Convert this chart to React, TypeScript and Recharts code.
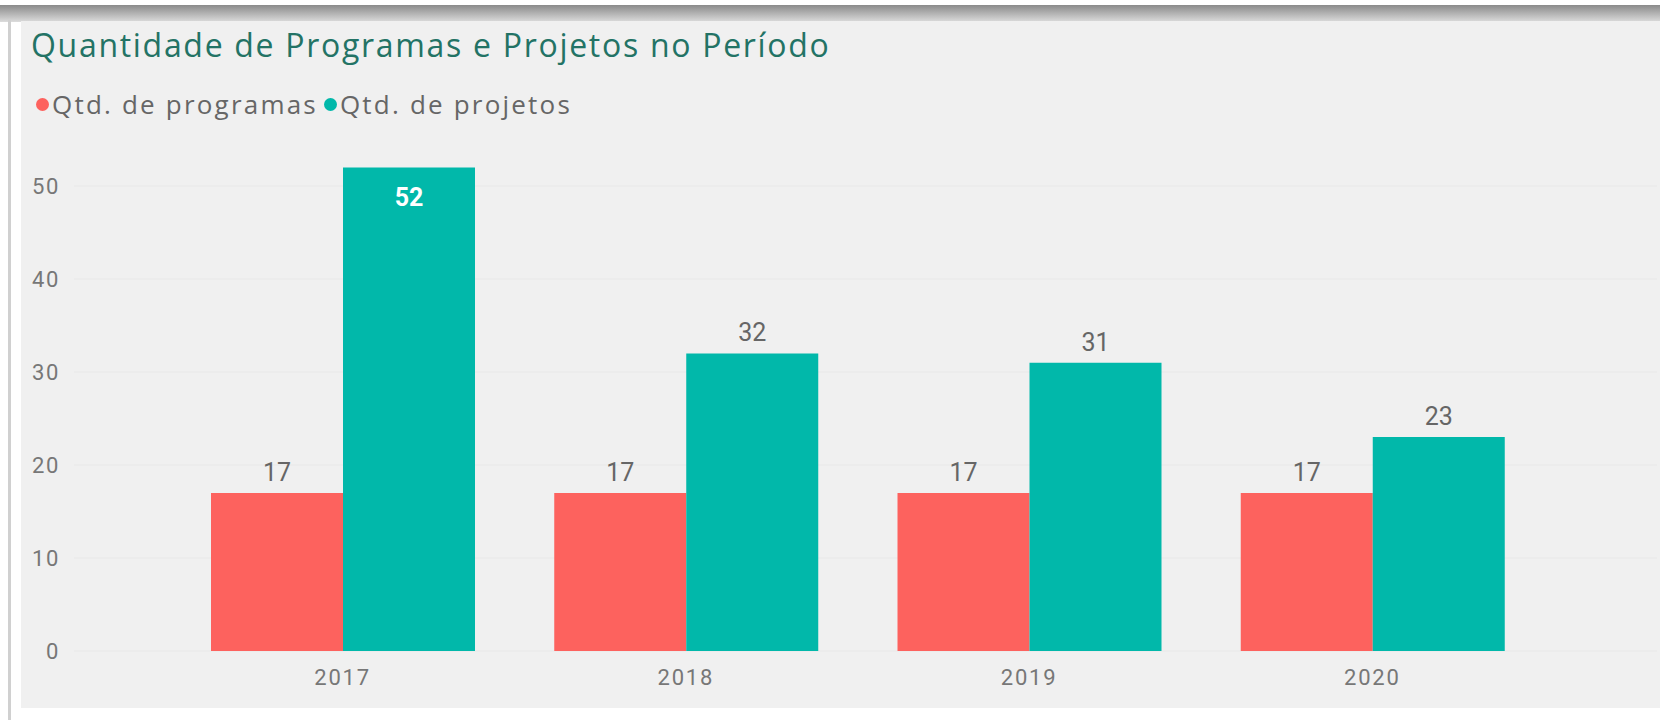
import { Bar, BarChart, CartesianGrid, LabelList, XAxis, YAxis } from 'recharts'

const years = ['2017', '2018', '2019', '2020']
const programas = [17, 17, 17, 17]
const projetos = [52, 32, 31, 23]
const yTicks = [0, 10, 20, 30, 40, 50]

const RED = '#FD625E'
const TEAL = '#01B8AA'

const data = years.map((year, i) => ({
  year,
  programas: programas[i],
  projetos: projetos[i],
}))

const numberFont = 'Roboto, "DejaVu Sans", sans-serif'
const uiFont = '"Open Sans", "Noto Sans", sans-serif'

// values that don't fit above the axis top go inside the bar, white and bold
function renderLabel(props: any) {
  const { x, y, width, value } = props
  const cx = x + width / 2
  if (value > 50) {
    return (
      <text x={cx} y={y + 39} textAnchor="middle" fill="#fff" fontWeight={700} fontSize={25} fontFamily={numberFont}>
        {value}
      </text>
    )
  }
  return (
    <text x={cx} y={y - 12} textAnchor="middle" fill="#666" fontSize={25} fontFamily={numberFont}>
      {value}
    </text>
  )
}

function LegendItem({ color, label }: { color: string; label: string }) {
  return (
    <span style={{ display: 'inline-flex', alignItems: 'center', marginRight: 6 }}>
      <span style={{ width: 13, height: 13, borderRadius: 7, background: color, marginRight: 3 }} />
      <span>{label}</span>
    </span>
  )
}

export default function App() {
  return (
    <div style={{ position: 'absolute', left: 0, top: 0, width: 1660, height: 727, background: '#fff', overflow: 'hidden' }}>
      <div style={{ position: 'absolute', left: 0, top: 5, width: 1660, height: 17, background: 'linear-gradient(#8a8a8a, #dcdcdc)' }} />
      <div style={{ position: 'absolute', left: 8, top: 20, width: 3, height: 700, background: '#d0d0d0' }} />
      <div style={{ position: 'absolute', left: 21, top: 21, width: 1639, height: 687, background: '#f0f0f0' }} />
      <div
        style={{
          position: 'absolute',
          left: 31,
          top: 23,
          fontFamily: uiFont,
          fontSize: 32,
          letterSpacing: 1.7,
          color: '#237365',
          whiteSpace: 'nowrap',
        }}
      >
        Quantidade de Programas e Projetos no Período
      </div>
      <div
        style={{
          position: 'absolute',
          left: 36,
          top: 86,
          fontFamily: uiFont,
          fontSize: 26,
          letterSpacing: 2.2,
          color: '#666',
          whiteSpace: 'nowrap',
          display: 'flex',
        }}
      >
        <LegendItem color={RED} label="Qtd. de programas" />
        <LegendItem color={TEAL} label="Qtd. de projetos" />
      </div>
      <div style={{ position: 'absolute', left: 0, top: 0 }}>
        <BarChart
          width={1660}
          height={727}
          data={data}
          margin={{ top: 139.5, right: 3, bottom: 46, left: 14 }}
          barCategoryGap={40}
          barGap={0}
        >
          <CartesianGrid vertical={false} stroke="#e8e8e8" horizontalValues={yTicks} />
          <XAxis
            dataKey="year"
            axisLine={false}
            tickLine={false}
            padding={{ left: 97, right: 113 }}
            tick={{ fill: '#777', fontSize: 22, fontFamily: numberFont, letterSpacing: 1.8 }}
            tickMargin={12}
          />
          <YAxis
            domain={[0, 55]}
            ticks={yTicks}
            axisLine={false}
            tickLine={false}
            width={60}
            tick={{ fill: '#777', fontSize: 22, fontFamily: numberFont, letterSpacing: 1.6 }}
            tickMargin={8}
          />
          <Bar dataKey="programas" fill={RED} isAnimationActive={false}>
            <LabelList dataKey="programas" content={renderLabel} />
          </Bar>
          <Bar dataKey="projetos" fill={TEAL} isAnimationActive={false}>
            <LabelList dataKey="projetos" content={renderLabel} />
          </Bar>
        </BarChart>
      </div>
    </div>
  )
}
